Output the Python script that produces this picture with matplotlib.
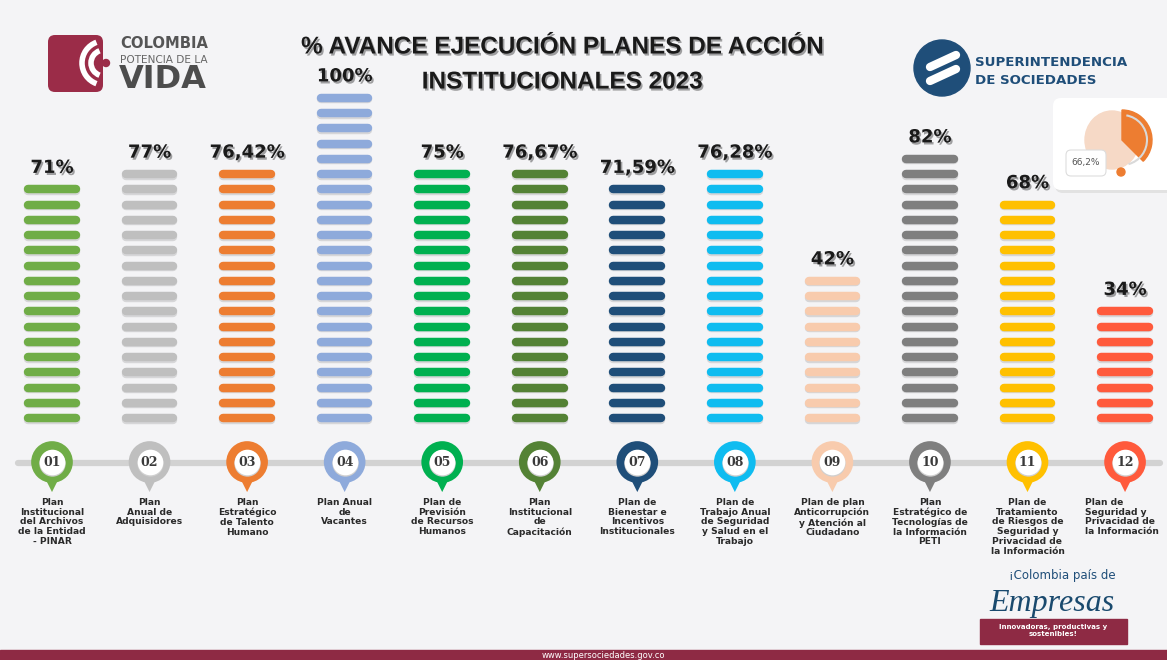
import numpy as np
import matplotlib.pyplot as plt
import matplotlib.patheffects as pe
from matplotlib.patches import FancyBboxPatch, Circle, Wedge, Rectangle, Arc, Ellipse

# datos del tablero
numeros = ['01', '02', '03', '04', '05', '06', '07', '08', '09', '10', '11', '12']
planes = ['Plan\nInstitucional\ndel Archivos\nde la Entidad\n- PINAR',
          'Plan\nAnual de\nAdquisidores',
          'Plan\nEstratégico\nde Talento\nHumano',
          'Plan Anual\nde\nVacantes',
          'Plan de\nPrevisión\nde Recursos\nHumanos',
          'Plan\nInstitucional\nde\nCapacitación',
          'Plan de\nBienestar e\nIncentivos\nInstitucionales',
          'Plan de\nTrabajo Anual\nde Seguridad\ny Salud en el\nTrabajo',
          'Plan de plan\nAnticorrupción\ny Atención al\nCiudadano',
          'Plan\nEstratégico de\nTecnologías de\nla Información\nPETI',
          'Plan de\nTratamiento\nde Riesgos de\nSeguridad y\nPrivacidad de\nla Información',
          'Plan de\nSeguridad y\nPrivacidad de\nla Información']
avance = [71, 77, 76.42, 100, 75, 76.67, 71.59, 76.28, 42, 82, 68, 34]
etiquetas = ['71%', '77%', '76,42%', '100%', '75%', '76,67%', '71,59%', '76,28%',
             '42%', '82%', '68%', '34%']
colores = ['#70ad47', '#bfbfbf', '#ed7d31', '#8eaadb', '#00b050', '#548235',
           '#1f4e79', '#0fbcf0', '#f8cbad', '#7f7f7f', '#ffc000', '#ff5a3c']
paso = 5     # cada barrita = 5 %
base = -5    # primera barrita

W, H = 1167, 660
fig = plt.figure(figsize=(W / 100, H / 100), dpi=100)
fig.patch.set_facecolor('#f4f4f6')

# capa en pixeles para adornos
deco = fig.add_axes([0, 0, 1, 1])
deco.set_xlim(0, W)
deco.set_ylim(H, 0)
deco.axis('off')
deco.patch.set_alpha(0)

# capa de datos
ax = fig.add_axes([0, 0, 1, 1])
ax.patch.set_alpha(0)
ax.axis('off')
px_x, x0 = 97.55, 52
px_y, y0 = 3.05, 418
ax.set_xlim(-x0 / px_x, (W - x0) / px_x)
ax.set_ylim(base - (H - y0) / px_y, base + y0 / px_y)


def py(p):
    return base + (y0 - p) / px_y


sombra = [pe.SimplePatchShadow(offset=(1.2, -1.5), shadow_rgbFace='k', alpha=0.35), pe.Normal()]

# titulo
for txt, yy in [('% AVANCE EJECUCIÓN PLANES DE ACCIÓN', 47), ('INSTITUCIONALES 2023', 82)]:
    deco.text(562, yy, txt, ha='center', va='center', fontsize=17.5, fontweight='bold',
              family='Liberation Sans', color='#1a1a1a', path_effects=sombra)

# logo Colombia
deco.add_patch(FancyBboxPatch((48, 35), 55, 57, boxstyle='round,pad=0,rounding_size=7',
                              fc='#9b2c48', ec='none'))
for r in (22, 13):
    deco.add_patch(Arc((104, 63), 2 * r, 2 * r, theta1=110, theta2=250, color='white', lw=4))
deco.add_patch(Circle((106, 63), 3.5, color='#9b2c48'))
deco.text(120, 44, 'COLOMBIA', fontsize=10.6, fontweight='bold', color='#555555', va='center')
deco.text(120, 60, 'POTENCIA DE LA', fontsize=7.6, color='#666666', va='center')
deco.text(119, 80, 'VIDA', fontsize=23, fontweight='bold', color='#4d4d4d', va='center')

# logo Supersociedades
deco.add_patch(Circle((942, 68), 28, color='#1f4e79'))
for dy in (-7, 7):
    deco.plot([930, 956], [68 + dy + 6, 68 + dy - 6], color='white', lw=6, solid_capstyle='round')
deco.text(975, 62, 'SUPERINTENDENCIA', fontsize=9.6, fontweight='bold', color='#1f4e79', va='center')
deco.text(975, 80, 'DE SOCIEDADES', fontsize=9.6, fontweight='bold', color='#1f4e79', va='center')

# tarjeta con dona
deco.add_patch(FancyBboxPatch((1055, 100), 130, 93, boxstyle='round,pad=0,rounding_size=8',
                              fc='#e2e2e2', ec='none'))
deco.add_patch(FancyBboxPatch((1053, 98), 130, 92, boxstyle='round,pad=0,rounding_size=8',
                              fc='white', ec='none'))
deco.add_patch(Ellipse((1112, 140), 54, 58, color='#f6d9c6'))
deco.add_patch(Wedge((1122, 140), 30, -90, 45, color='#ed7d31'))
deco.add_patch(Arc((1122, 140), 50, 50, theta1=-80, theta2=75, color='#d9d9d9', lw=1.5))
deco.add_patch(Circle((1121, 172), 4, color='#ed7d31'))
deco.add_patch(FancyBboxPatch((1066, 150), 40, 26, boxstyle='round,pad=0,rounding_size=5',
                              fc='white', ec='#dddddd', lw=0.8))
deco.text(1086, 163, '66,2%', fontsize=6.5, color='#555555', ha='center', va='center')

# linea de tiempo
deco.plot([18, 1160], [463, 463], color='#d2d2d2', lw=4.5, solid_capstyle='round', zorder=1)

xs = np.arange(len(avance))
lw_seg = 6.1
for i, (v, c) in enumerate(zip(avance, colores)):
    ys = np.arange(base, v + 0.01, paso)
    ax.hlines(ys - 0.5, i - 0.244, i + 0.244, colors='k', alpha=0.12, lw=lw_seg, capstyle='round')
    ax.hlines(ys, i - 0.244, i + 0.244, colors=c, lw=lw_seg, capstyle='round')
    ax.text(i, ys[-1] + 7, etiquetas[i], ha='center', va='center', fontsize=13,
            fontweight='bold', color='#1a1a1a', path_effects=sombra)

# marcadores
ax.scatter(xs, [py(482)] * len(xs), s=210, marker='v', c=colores, zorder=3, linewidths=0)
ax.scatter(xs, [py(462)] * len(xs), s=900, marker='o', c=colores, zorder=4, linewidths=0)
ax.scatter(xs, [py(463)] * len(xs), s=360, marker='o', c='#d0d0d0', zorder=5, linewidths=0)
ax.scatter(xs, [py(462)] * len(xs), s=340, marker='o', c='white', zorder=6, linewidths=0)
for i, n in enumerate(numeros):
    ax.text(i, py(462), n, ha='center', va='center', fontsize=9, fontweight='bold',
            family='DejaVu Serif', color='#3a3a3a', zorder=7)

# nombres de los planes
for i, t in enumerate(planes):
    if i == len(planes) - 1:
        ax.text(i - 0.41, py(498), t, ha='left', va='top', fontsize=6.6, fontweight='bold',
                color='#2a2a2a', linespacing=1.1)
    else:
        ax.text(i, py(498), t, ha='center', va='top', fontsize=6.6, fontweight='bold',
                color='#2a2a2a', linespacing=1.1)

# logo Colombia pais de Empresas
deco.text(1062, 576, '¡Colombia país de', fontsize=8.5, color='#1f4e79', ha='center', va='center')
deco.text(1052, 603, 'Empresas', fontsize=23, color='#1a4a6e', ha='center', va='center',
          family='Liberation Serif', style='italic')
deco.add_patch(Rectangle((980, 619), 147, 25, color='#8e2a44'))
deco.text(1053, 631, 'Innovadoras, productivas y\nsostenibles!', fontsize=5, color='white',
          ha='center', va='center', fontweight='bold')

# franja inferior
deco.add_patch(Rectangle((0, 650), W, 10, color='#8e2a44'))
deco.text(603, 655, 'www.supersociedades.gov.co', fontsize=6, color='white', ha='center', va='center')

fig.savefig('out.png', dpi=100, facecolor=fig.get_facecolor())
